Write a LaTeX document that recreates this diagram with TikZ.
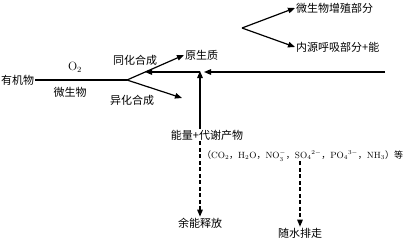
\documentclass[tikz,border=0pt]{standalone}
\usepackage{fontspec}
\newfontfamily\cjk{Noto Sans CJK SC}
\usetikzlibrary{arrows.meta}
\tikzset{
	lbl/.style={font=\cjk\fontsize{11}{13}\selectfont, inner sep=1pt},
	arr/.style={line width=1.2pt, -{Triangle[length=7pt, width=5.5pt]}},
	dasharr/.style={arr, dash pattern=on 4pt off 2.5pt},
}
\begin{document}
\begin{tikzpicture}[x=1pt, y=-1pt]
	\useasboundingbox (0,0) rectangle (410,242);
	
	\node [lbl, anchor=west] (org) at (0,80) {有机物};
	\coordinate (fork) at (127,80);
	\draw [line width=1.2pt] (org) -- (fork);
	\node [font=\large] (o2) at (75,67) {O$_2$};
	\node [lbl] (mic) at (70,92) {微生物};
	
	\node [lbl] (assim) at (135,60) {同化合成};
	\node [lbl] (dissim) at (132,100) {异化合成};
	\node [lbl, anchor=west] (proto) at (184,55) {原生质};
	\coordinate (dis) at (182,98);
	\draw [arr] (fork) -- (proto.west);
	\draw [arr] (fork) -- (dis);
	
	\coordinate (feed) at (385,72);
	\coordinate (join) at (200,72);
	\coordinate (back) at (145,72);
	\draw [arr] (feed) -- ([xshift=4]join);
	\draw [arr] (join) -- (back);
	
	\coordinate (split) at (242,28);
	\node [lbl, anchor=west] (grow) at (295,8) {微生物增殖部分};
	\node [lbl, anchor=west] (resp) at (295,47) {内源呼吸部分+能};
	\draw [arr] (split) -- (grow.west);
	\draw [arr] (split) -- (resp.west);
	
	\node [lbl] (energy) at (207,135) {能量+代谢产物};
	\draw [arr] (energy.north -| join) -- ([yshift=1]join);
	\node [lbl, anchor=west, inner sep=0pt, font=\fontsize{9}{11}\selectfont] (prod) at (202,156)
		{{\cjk （}CO$_2${\cjk ，}H$_2$O{\cjk ，}NO$_3^-${\cjk ，}SO$_4{}^{2-}${\cjk ，}PO$_4{}^{3-}${\cjk ，}NH$_3${\cjk ）等}};
	
	\node [lbl] (spare) at (200,223) {余能释放};
	\node [lbl] (drain) at (300,233) {随水排走};
	\draw [dasharr] (energy.south -| spare) -- (spare.north);
	\draw [dasharr] (prod.south -| drain) -- (drain.north);
\end{tikzpicture}
\end{document}
